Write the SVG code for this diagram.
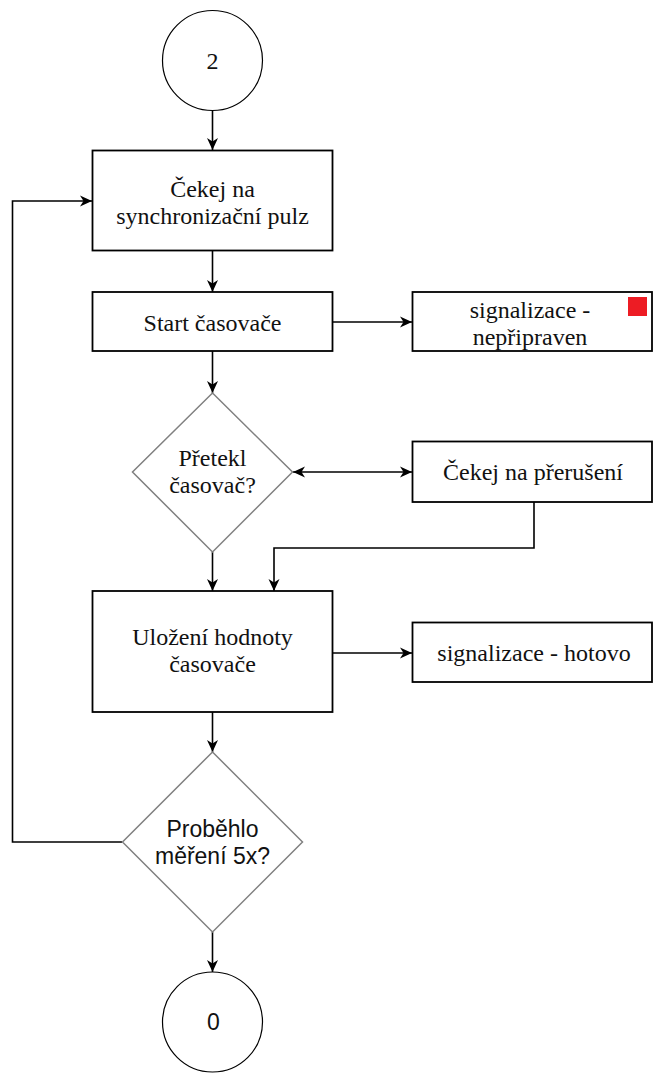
<svg xmlns="http://www.w3.org/2000/svg" width="654" height="1073" viewBox="0 0 654 1073">
<style>
.box{fill:#fff;stroke:#000;stroke-width:1.8}
.dia{fill:#fff;stroke:#808080;stroke-width:1.5}
.circ{fill:#fff;stroke:#000;stroke-width:1.2}
.t{font-family:"Liberation Serif","Times New Roman",serif;font-size:24px;fill:#111;text-anchor:middle}
.s{font-family:"Liberation Sans",Arial,sans-serif;font-size:23px;fill:#111;text-anchor:middle}
.c{fill:none;stroke:#000;stroke-width:1.6}
</style>
<defs>
<marker id="a" markerUnits="userSpaceOnUse" markerWidth="14" markerHeight="12" refX="12" refY="6" orient="auto-start-reverse">
<path d="M0,0.5 L12,6 L0,11.5 L3.5,6 z" fill="#000"/>
</marker>
</defs>
<rect width="654" height="1073" fill="#fff"/>
<g id="connectors">
<path class="c" d="M212.5,111 L212.5,150" marker-end="url(#a)"/>
<path class="c" d="M212.5,251 L212.5,292" marker-end="url(#a)"/>
<path class="c" d="M333,322 L412,322" marker-end="url(#a)"/>
<path class="c" d="M212.5,351 L212.5,393" marker-end="url(#a)"/>
<path class="c" d="M293,472 L412,472" marker-start="url(#a)" marker-end="url(#a)"/>
<path class="c" d="M534,502 L534,548 L274,548 L274,591" marker-end="url(#a)"/>
<path class="c" d="M212.5,552 L212.5,591" marker-end="url(#a)"/>
<path class="c" d="M333,653 L412,653" marker-end="url(#a)"/>
<path class="c" d="M212.5,712 L212.5,752" marker-end="url(#a)"/>
<path class="c" d="M122,842 L12.5,842 L12.5,201 L92,201" marker-end="url(#a)"/>
<path class="c" d="M212.5,932 L212.5,972" marker-end="url(#a)"/>
</g>
<g id="start">
<circle class="circ" cx="212.5" cy="60.5" r="50"/>
<text class="t" x="212.5" y="69">2</text>
</g>
<g id="wait-sync">
<rect class="box" x="92.5" y="150.5" width="240" height="100"/>
<text class="t" x="212.5" y="197">Čekej na</text>
<text class="t" x="212.5" y="224">synchronizační pulz</text>
</g>
<g id="start-timer">
<rect class="box" x="92.5" y="292" width="240" height="59"/>
<text class="t" x="212.5" y="331">Start časovače</text>
</g>
<g id="signal-notready">
<rect class="box" x="412.5" y="292" width="239.5" height="59"/>
<rect x="628" y="297" width="19" height="19" fill="#ED1C24"/>
<text class="t" x="530" y="318">signalizace -</text>
<text class="t" x="530" y="345">nepřipraven</text>
</g>
<g id="overflow">
<polygon class="dia" points="212.5,393 292.5,472 212.5,552 132.5,472"/>
<text class="t" x="212.5" y="466">Přetekl</text>
<text class="t" x="212.5" y="493">časovač?</text>
</g>
<g id="wait-int">
<rect class="box" x="412.5" y="441.5" width="239.5" height="60.5"/>
<text class="t" x="533" y="480">Čekej na přerušení</text>
</g>
<g id="save">
<rect class="box" x="92.5" y="591" width="240" height="121"/>
<text class="t" x="212.5" y="645">Uložení hodnoty</text>
<text class="t" x="212.5" y="672">časovače</text>
</g>
<g id="signal-done">
<rect class="box" x="412.5" y="622.5" width="239.5" height="59.5"/>
<text class="t" x="534" y="661">signalizace - hotovo</text>
</g>
<g id="measured">
<polygon class="dia" points="212.5,752 302.5,842 212.5,932 122.5,842"/>
<text class="s" x="212.5" y="837">Proběhlo</text>
<text class="s" x="212.5" y="864">měření 5x?</text>
</g>
<g id="end">
<circle class="circ" cx="212.5" cy="1022" r="50"/>
<text class="s" x="213.5" y="1030">0</text>
</g>
</svg>
